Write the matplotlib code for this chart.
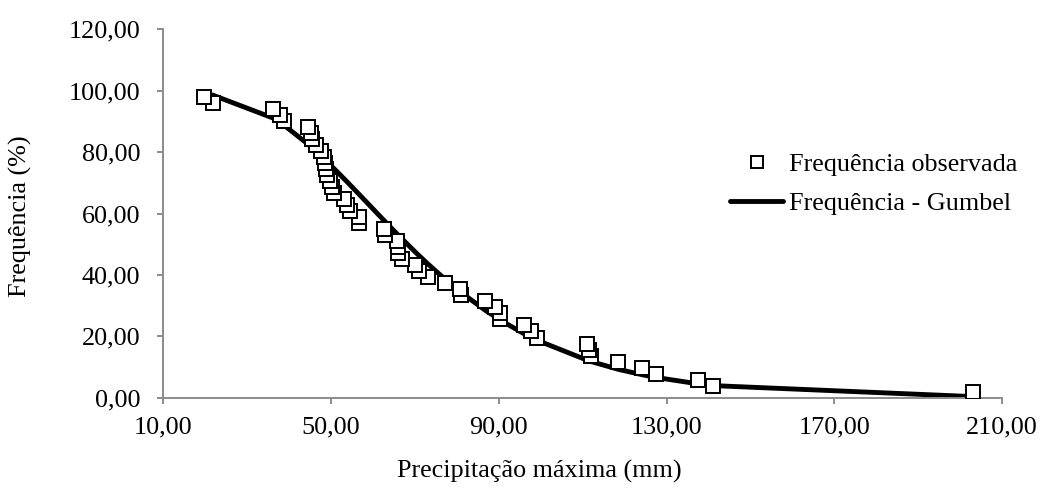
import matplotlib
matplotlib.use('Agg')
import matplotlib.pyplot as plt

plt.rcParams['font.family'] = ['Liberation Serif', 'DejaVu Serif']

# ── dados: frequência observada (posição de plotagem m/(n+1)) ──
precip_obs = [203.2, 141.0, 137.5, 127.5, 124.2, 118.5, 112.1, 111.6, 111.1, 99.0,
              97.8, 96.0, 90.3, 90.2, 89.1, 86.7, 81.1, 80.8, 77.2, 73.0,
              71.0, 70.1, 67.0, 65.9, 65.9, 65.7, 62.9, 62.7, 56.7, 56.7,
              54.6, 53.8, 53.0, 50.6, 50.2, 49.7, 49.0, 48.7, 48.5, 48.4,
              47.5, 46.3, 45.5, 45.2, 44.5, 38.8, 37.9, 36.2, 21.8, 19.8]
freq_obs = [1.96, 3.92, 5.88, 7.84, 9.80, 11.76, 13.73, 15.69, 17.65, 19.61,
            21.57, 23.53, 25.49, 27.45, 29.41, 31.37, 33.33, 35.29, 37.25, 39.22,
            41.18, 43.14, 45.10, 47.06, 49.02, 50.98, 52.94, 54.90, 56.86, 58.82,
            60.78, 62.75, 64.71, 66.67, 68.63, 70.59, 72.55, 74.51, 76.47, 78.43,
            80.39, 82.35, 84.31, 86.27, 88.24, 90.20, 92.16, 94.12, 96.08, 98.04]

# ── curva de Gumbel ──
precip_gumbel = [19.8, 21.8, 36.2, 38.8, 44.5, 48.5, 50.6, 53.8, 56.7, 62.7,
                 65.9, 70.1, 73.0, 77.2, 81.2, 86.7, 90.3, 96.0, 99.0, 111.6,
                 118.5, 124.2, 127.5, 137.5, 141.0, 203.2]
freq_gumbel = [98.98, 98.56, 91.09, 88.74, 82.59, 77.58, 74.78, 70.35, 66.23, 57.63,
               53.13, 47.43, 43.68, 38.58, 34.09, 28.56, 25.33, 20.85, 18.78, 11.94,
               9.25, 7.48, 6.60, 4.52, 3.95, 0.35]

xticks = [10, 50, 90, 130, 170, 210]
xtick_labels = ['10,00', '50,00', '90,00', '130,00', '170,00', '210,00']
yticks = [0, 20, 40, 60, 80, 100, 120]
ytick_labels = ['0,00', '20,00', '40,00', '60,00', '80,00', '100,00', '120,00']

FS = 18.8

fig = plt.figure(figsize=(10.41, 4.91), dpi=100)
ax = fig.add_axes([0.1569, 0.19, 0.8056, 0.7503])

ax.plot(precip_gumbel, freq_gumbel, color='black', lw=3.5, zorder=2,
        solid_capstyle='round', label='Frequência - Gumbel')
ax.plot(precip_obs, freq_obs, ls='none', marker='s', ms=10.5,
        mfc='white', mec='black', mew=1.4, zorder=3,
        label='Frequência observada')

ax.set_xlim(10, 210)
ax.set_ylim(0, 120)
ax.set_xticks(xticks)
ax.set_xticklabels(xtick_labels)
ax.set_yticks(yticks)
ax.set_yticklabels(ytick_labels)

for s in ['top', 'right']:
    ax.spines[s].set_visible(False)
for s in ['left', 'bottom']:
    ax.spines[s].set_color('#8c8c8c')
    ax.spines[s].set_linewidth(1.4)
ax.tick_params(axis='both', colors='#8c8c8c', length=4.5, width=1.4,
               labelsize=FS, labelcolor='black')
ax.tick_params(axis='y', pad=12)
ax.tick_params(axis='x', pad=9)

fig.text(0.518, 0.039, 'Precipitação máxima (mm)', ha='center', va='center', fontsize=FS)
fig.text(0.020, 0.560, 'Frequência (%)', ha='center', va='center',
         rotation=90, fontsize=FS)

handles, labels = ax.get_legend_handles_labels()
leg = ax.legend(handles[::-1], labels[::-1], loc='upper left',
                bbox_to_anchor=(0.701, 0.688), bbox_transform=fig.transFigure,
                frameon=False, fontsize=FS, handlelength=2.05,
                handletextpad=0.23, labelspacing=0.58, borderpad=0,
                borderaxespad=0, markerscale=0.8)

plt.savefig('out.png', dpi=100)
